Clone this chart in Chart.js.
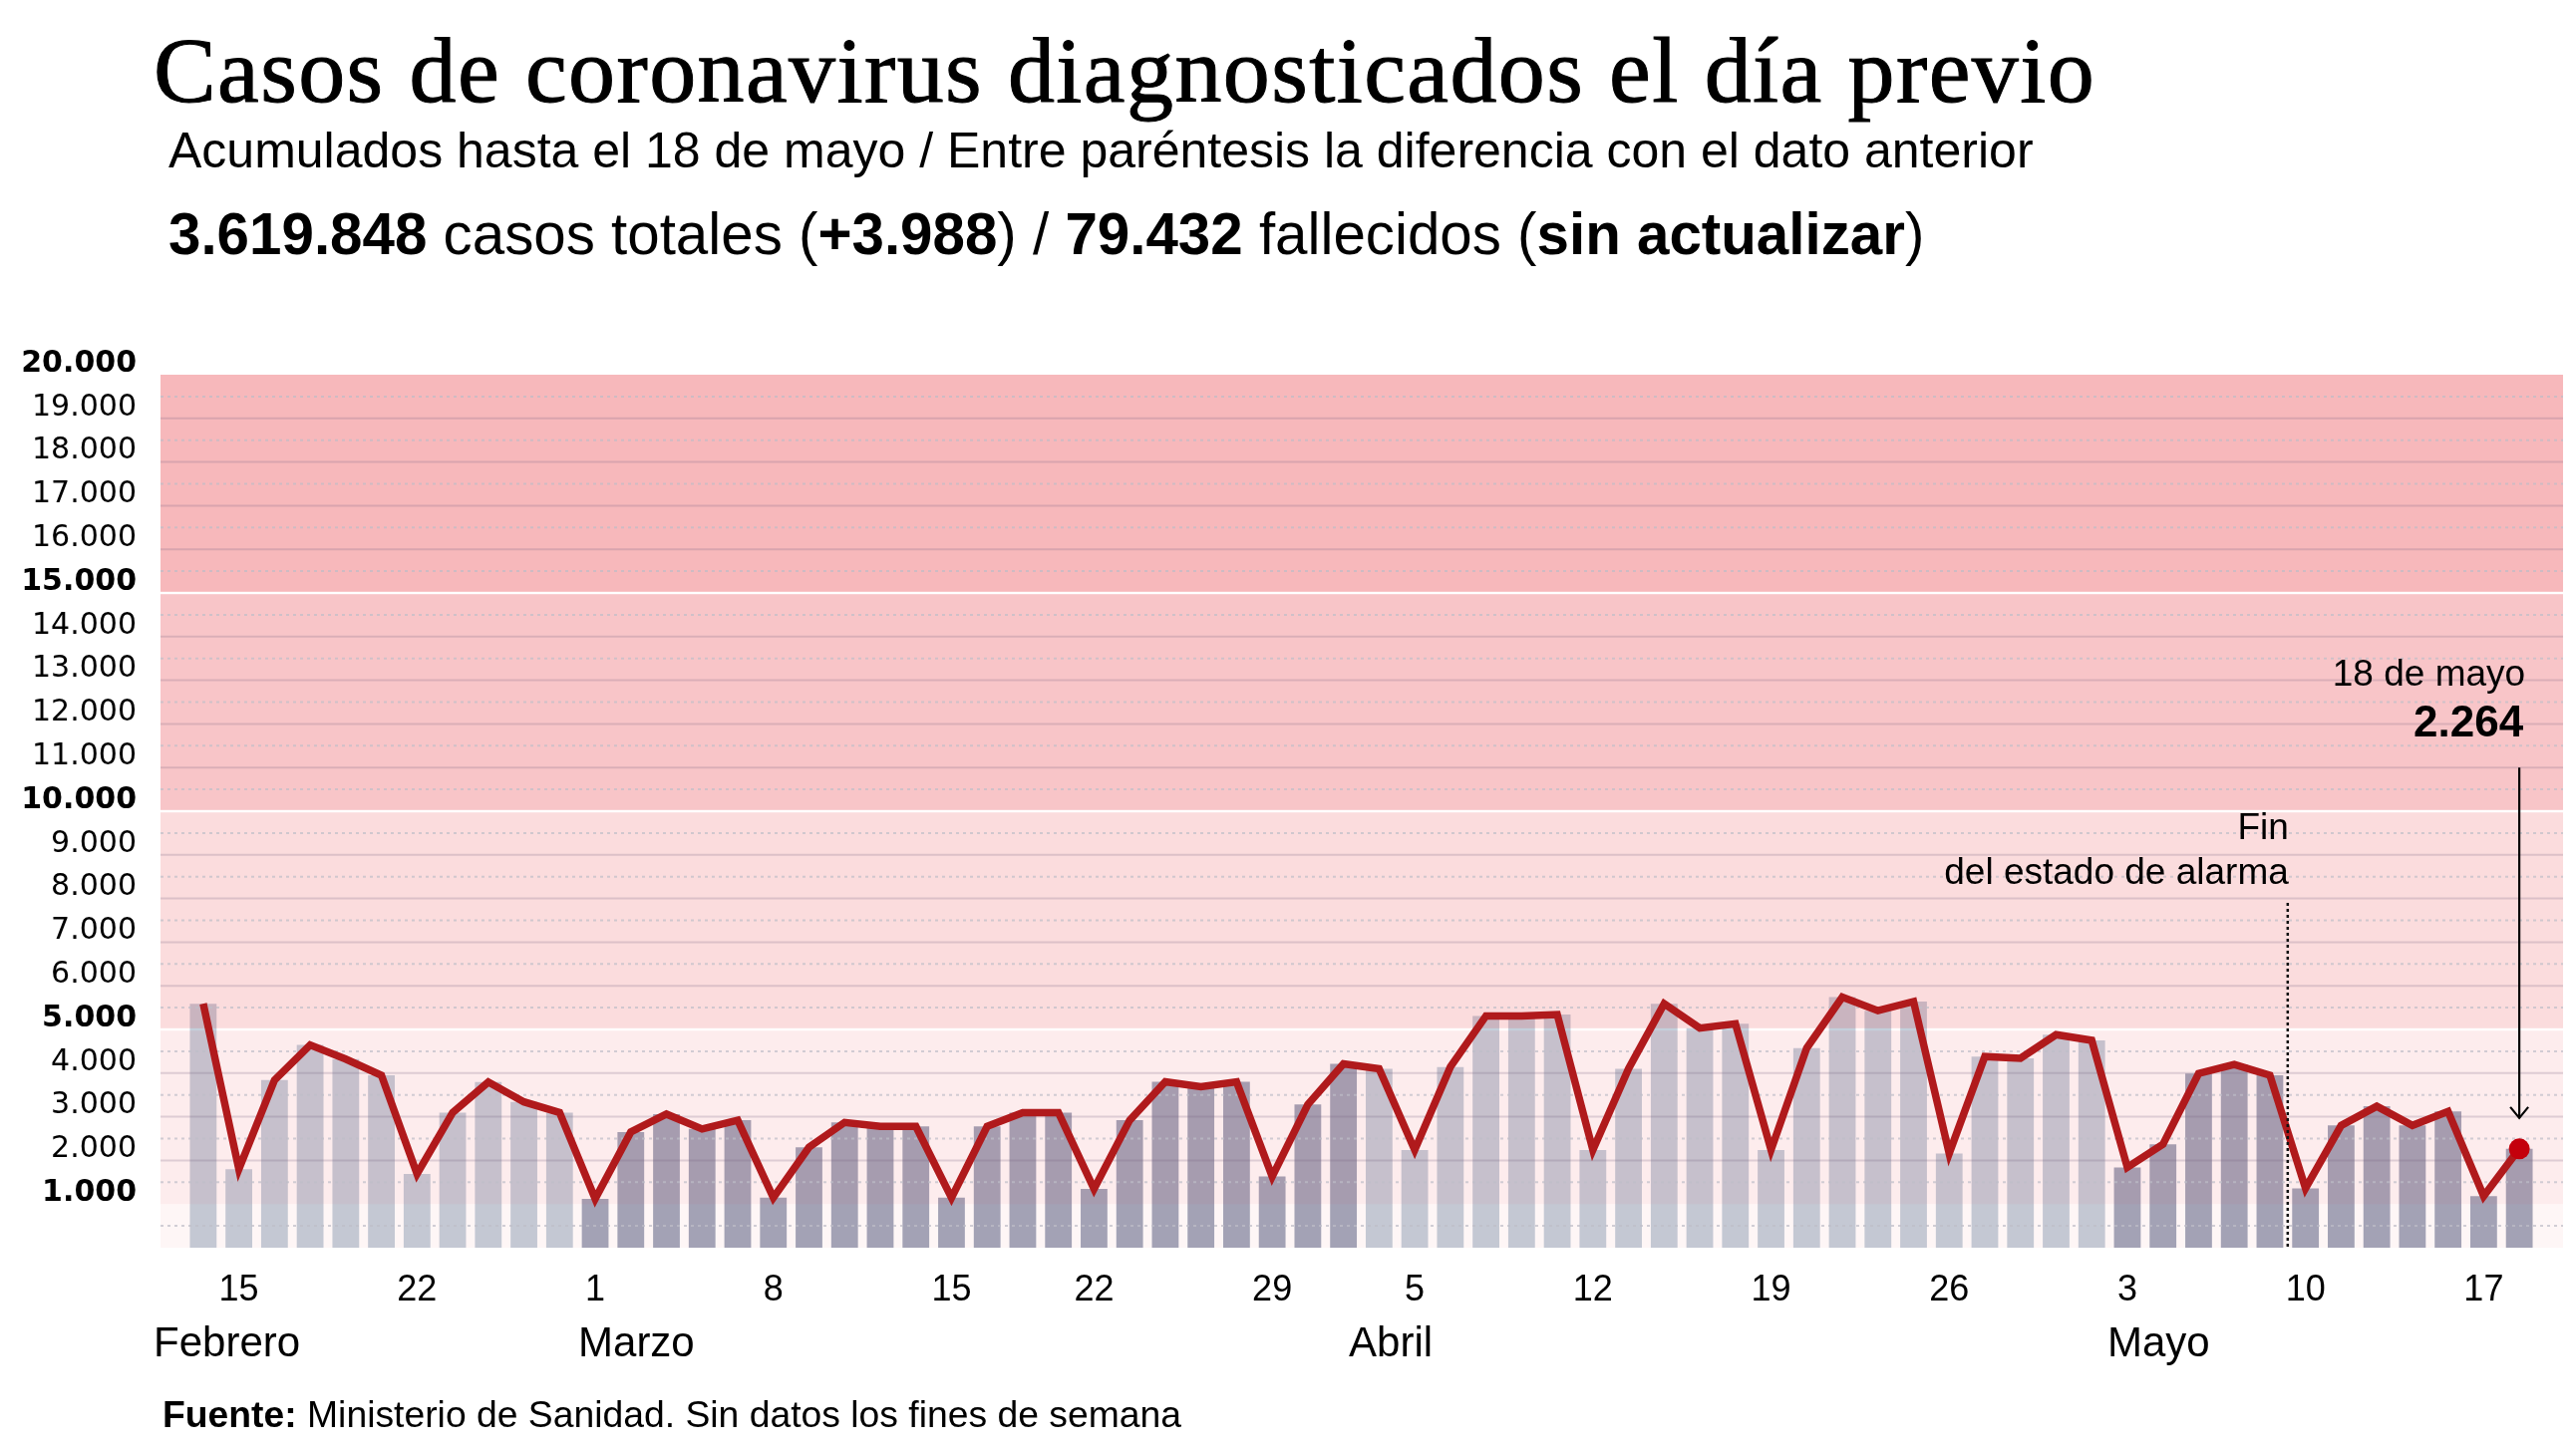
<!DOCTYPE html>
<html lang="es">
<head>
<meta charset="utf-8">
<title>Casos de coronavirus diagnosticados el día previo</title>
<script src="https://cdn.jsdelivr.net/npm/chart.js@4.4.1/dist/chart.umd.min.js"></script>
<style>
  html, body { margin: 0; padding: 0; background: #fff; }
  body { width: 2584px; height: 1455px; position: relative; overflow: hidden;
         font-family: 'Liberation Sans', Arial, sans-serif; color: #000; }
  #chart { position: absolute; left: 0; top: 0; width: 2584px; height: 1455px; }
  .txt { position: absolute; white-space: nowrap; line-height: 1; }
  #titulo { left: 154px; top: 23px; font-family: 'Liberation Serif', serif; font-size: 94px;
            letter-spacing: 1.4px; -webkit-text-stroke: 1px #000; }
  #subtitulo { left: 169px; top: 126px; font-size: 50px; }
  #resumen { left: 169px; top: 206px; font-size: 58.3px; }
  #fuente { left: 163px; top: 1401px; font-size: 37.3px; }
  b { font-weight: bold; }
</style>
</head>
<body>
<canvas id="chart" width="2584" height="1455"></canvas>
<div class="txt" id="titulo">Casos de coronavirus diagnosticados el día previo</div>
<div class="txt" id="subtitulo">Acumulados hasta el 18 de mayo / Entre paréntesis la diferencia con el dato anterior</div>
<div class="txt" id="resumen"><b>3.619.848</b> casos totales (<b>+3.988</b>) / <b>79.432</b> fallecidos (<b>sin actualizar</b>)</div>
<div class="txt" id="fuente"><b>Fuente:</b> Ministerio de Sanidad. Sin datos los fines de semana</div>
<script>
// días con dato (sin fines de semana ni festivos), formato MM-DD de 2021
const fechas = [
  '02-12', '02-15', '02-16', '02-17', '02-18', '02-19', '02-22', '02-23', '02-24', '02-25', '02-26',
  '03-01', '03-02', '03-03', '03-04', '03-05', '03-08', '03-09', '03-10', '03-11', '03-12',
  '03-15', '03-16', '03-17', '03-18', '03-22', '03-23', '03-24', '03-25', '03-26',
  '03-29', '03-30', '03-31',
  '04-01', '04-05', '04-06', '04-07', '04-08', '04-09', '04-12', '04-13', '04-14', '04-15', '04-16',
  '04-19', '04-20', '04-21', '04-22', '04-23', '04-26', '04-27', '04-28', '04-29', '04-30',
  '05-03', '05-04', '05-05', '05-06', '05-07', '05-10', '05-11', '05-12', '05-13', '05-14',
  '05-17', '05-18'
];

// casos diagnosticados el día previo
const casos = [
  5590, 1800, 3840, 4645, 4320, 3950, 1690, 3095, 3795, 3340, 3095,
  1120, 2650, 3060, 2720, 2920, 1145, 2300, 2870, 2780, 2780,
  1145, 2780, 3095, 3095, 1345, 2920, 3800, 3690, 3800,
  1630, 3280, 4210,
  4100, 2240, 4140, 5310, 5310, 5340, 2240, 4100, 5590, 5030, 5130,
  2240, 4570, 5740, 5430, 5640, 2160, 4380, 4340, 4880, 4750,
  1840, 2370, 3990, 4200, 3950, 1360, 2800, 3240, 2800, 3120,
  1180, 2264
];

const meses = ['Febrero', 'Marzo', 'Abril', 'Mayo'];
const mesesAncla = ['02-15', '03-01', '04-05', '05-03'];
const tramos = [0, 1000, 5000, 10000, 15000, 20000];
const ticksNegrita = [1000, 5000, 10000, 15000, 20000];
const finAlarma = ['05-07', '05-10'];

const fmt = v => String(v).replace(/\B(?=(\d{3})+(?!\d))/g, '.');
const mesDe = f => parseInt(f.slice(0, 2), 10);

Chart.defaults.font.family = "'Liberation Sans', Arial, sans-serif";
Chart.defaults.color = '#000';

// franjas rosas y rejilla, pintadas encima de las barras
const franjas = {
  id: 'franjas',
  afterDatasetDraw(chart, args) {
    if (args.meta.type !== 'bar') return;
    const { ctx, chartArea, scales: { y } } = chart;
    const x0 = chartArea.left - 25, x1 = chartArea.right + 26;
    const alphas = [0.042, 0.085, 0.165, 0.27, 0.33];
    ctx.save();
    for (let i = 0; i < tramos.length - 1; i++) {
      let top = y.getPixelForValue(tramos[i + 1]);
      let bot = y.getPixelForValue(tramos[i]);
      if (tramos[i + 1] % 5000 === 0 && i + 1 < tramos.length - 1) top += 1.2;
      if (tramos[i] % 5000 === 0 && tramos[i] > 0) bot -= 1.2;
      ctx.fillStyle = `rgba(230, 40, 50, ${alphas[i]})`;
      ctx.fillRect(x0, top, x1 - x0, bot - top);
    }
    // líneas continuas cada 1.000
    ctx.strokeStyle = 'rgba(120, 100, 130, 0.24)';
    ctx.lineWidth = 2;
    for (let v = 2000; v < 20000; v += 1000) {
      if (v % 5000 === 0) continue;
      const py = y.getPixelForValue(v);
      ctx.beginPath(); ctx.moveTo(x0, py); ctx.lineTo(x1, py); ctx.stroke();
    }
    // punteadas en los 500
    ctx.strokeStyle = 'rgba(190, 190, 200, 0.7)';
    ctx.setLineDash([3, 4]);
    for (let v = 500; v < 20000; v += 1000) {
      const py = y.getPixelForValue(v);
      ctx.beginPath(); ctx.moveTo(x0, py); ctx.lineTo(x1, py); ctx.stroke();
    }
    ctx.restore();
  }
};

const anotaciones = {
  id: 'anotaciones',
  afterDraw(chart) {
    const { ctx, chartArea, scales: { x, y } } = chart;
    ctx.save();
    ctx.fillStyle = '#000';
    ctx.textBaseline = 'middle';

    // nombres de los meses
    const alinea = ['center', 'left', 'center', 'left'];
    const dx = [-12, -17, -24, -20];
    ctx.font = "42px 'Liberation Sans'";
    meses.forEach((m, i) => {
      const px = x.getPixelForValue(fechas.indexOf(mesesAncla[i]));
      ctx.textAlign = alinea[i];
      ctx.fillText(m, px + dx[i], chartArea.bottom + 97);
    });

    // fin del estado de alarma
    const xf = (x.getPixelForValue(fechas.indexOf(finAlarma[0])) + x.getPixelForValue(fechas.indexOf(finAlarma[1]))) / 2;
    const yf = y.getPixelForValue(7900);
    ctx.strokeStyle = '#111';
    ctx.lineWidth = 2.5;
    ctx.setLineDash([3, 3]);
    ctx.beginPath(); ctx.moveTo(xf, yf); ctx.lineTo(xf, chartArea.bottom); ctx.stroke();
    ctx.setLineDash([]);
    ctx.font = "37px 'Liberation Sans'";
    ctx.textAlign = 'right';
    ctx.fillText('Fin', xf + 1, yf - 74);
    ctx.fillText('del estado de alarma', xf + 1, yf - 29);

    // flecha al último dato
    const il = casos.length - 1;
    const xa = x.getPixelForValue(il);
    const tip = y.getPixelForValue(casos[il]) - 31;
    ctx.strokeStyle = '#000';
    ctx.lineWidth = 2.2;
    ctx.beginPath(); ctx.moveTo(xa, y.getPixelForValue(11000)); ctx.lineTo(xa, tip); ctx.stroke();
    ctx.beginPath(); ctx.moveTo(xa - 9, tip - 11); ctx.lineTo(xa, tip); ctx.lineTo(xa + 9, tip - 11); ctx.stroke();
    const yv = y.getPixelForValue(12000);
    ctx.font = "bold 44px 'Liberation Sans'";
    ctx.fillText(fmt(casos[il]), xa + 4, yv);
    ctx.font = "37px 'Liberation Sans'";
    ctx.fillText('18 de mayo', xa + 6, yv - 49);
    ctx.restore();
  }
};

new Chart(document.getElementById('chart'), {
  data: {
    labels: fechas,
    datasets: [
      {
        type: 'line',
        data: casos,
        order: 0,
        borderColor: '#b01a1c',
        borderWidth: 7.5,
        borderJoinStyle: 'miter',
        tension: 0,
        pointRadius: c => c.dataIndex === casos.length - 1 ? 10.5 : 0,
        pointHoverRadius: 0,
        pointBorderWidth: 0,
        pointBackgroundColor: '#c4000c'
      },
      {
        type: 'bar',
        data: casos,
        order: 1,
        backgroundColor: fechas.map(f => mesDe(f) % 2 === 1 ? '#a0a8bc' : '#c3cfdb'),
        barPercentage: 0.75,
        categoryPercentage: 1
      }
    ]
  },
  options: {
    responsive: false,
    devicePixelRatio: 1,
    animation: false,
    layout: { padding: { top: 376, right: 39, left: 0, bottom: 0 } },
    plugins: { legend: { display: false }, tooltip: { enabled: false } },
    scales: {
      x: {
        grid: { display: false, drawTicks: false },
        border: { display: false },
        ticks: {
          autoSkip: false, maxRotation: 0, minRotation: 0, padding: 21,
          font: { size: 36 },
          callback: (v, i) => {
            const f = fechas[i];
            const d = new Date(2021, mesDe(f) - 1, parseInt(f.slice(3), 10));
            return d.getDay() === 1 ? String(d.getDate()) : '';
          }
        },
        afterFit: s => { s.height = 203; }
      },
      y: {
        min: 0, max: 20000,
        grid: { display: false, drawTicks: false },
        border: { display: false },
        ticks: {
          stepSize: 1000, maxTicksLimit: 30, padding: 49, labelOffset: -11,
          font: c => ({ family: "'DejaVu Sans'", size: 30, weight: ticksNegrita.includes(c.tick && c.tick.value) ? 'bold' : 'normal' }),
          callback: v => v === 0 ? '' : fmt(v)
        },
        afterFit: s => { s.width = 186; }
      }
    }
  },
  plugins: [franjas, anotaciones]
});
</script>
</body>
</html>
